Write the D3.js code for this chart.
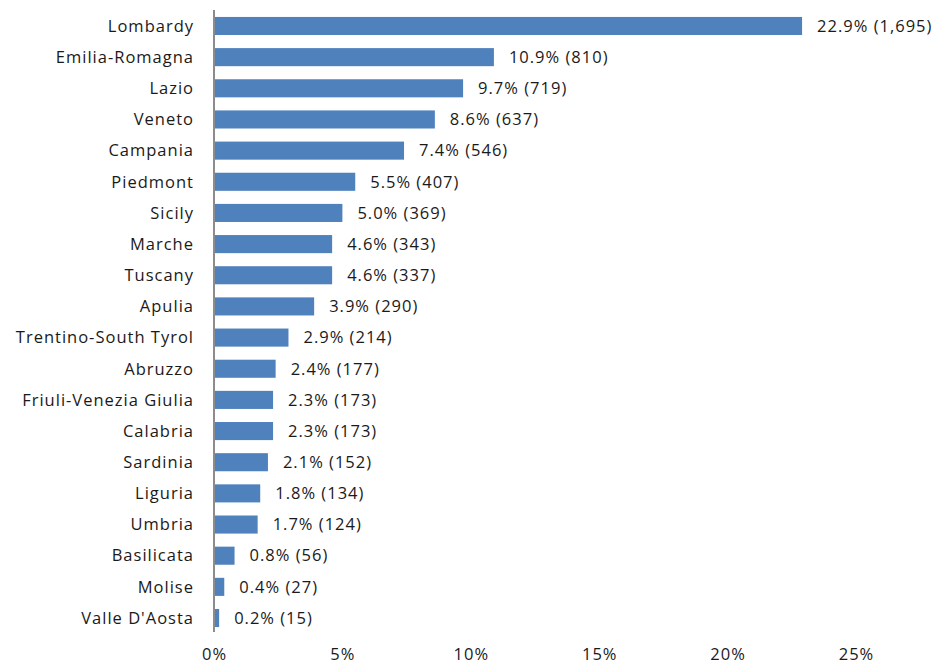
<!DOCTYPE html>
<html>
<head>
<meta charset="utf-8">
<script src="https://cdn.jsdelivr.net/npm/d3@7"></script>
<style>
  html, body { margin: 0; padding: 0; background: #fff; }
  svg text { font-family: "Open Sans", Lato, sans-serif; fill: #1a1a1a; letter-spacing: 1px; }
</style>
</head>
<body>
<svg id="chart" width="935" height="666"></svg>
<script>
// Regional share (%) and counts
const regions = ["Lombardy", "Emilia-Romagna", "Lazio", "Veneto", "Campania", "Piedmont", "Sicily",
  "Marche", "Tuscany", "Apulia", "Trentino-South Tyrol", "Abruzzo", "Friuli-Venezia Giulia",
  "Calabria", "Sardinia", "Liguria", "Umbria", "Basilicata", "Molise", "Valle D'Aosta"];
const shares = [22.9, 10.9, 9.7, 8.6, 7.4, 5.5, 5.0, 4.6, 4.6, 3.9, 2.9, 2.4, 2.3, 2.3, 2.1, 1.8, 1.7, 0.8, 0.4, 0.2];
const counts = [1695, 810, 719, 637, 546, 407, 369, 343, 337, 290, 214, 177, 173, 173, 152, 134, 124, 56, 27, 15];
const xTicks = [0, 5, 10, 15, 20, 25];

const data = regions.map((r, i) => ({ region: r, share: shares[i], count: counts[i] }));

const svg = d3.select("#chart");
const x = d3.scaleLinear().domain([0, 25]).range([214, 856]);
const y = d3.scaleBand().domain(regions).range([10.4, 633.6]).paddingInner(0.42).paddingOuter(0.21);
const FS = 16.5;

// bars
svg.append("g").selectAll("rect").data(data).join("rect")
  .attr("x", x(0))
  .attr("y", d => y(d.region))
  .attr("width", d => x(d.share) - x(0))
  .attr("height", y.bandwidth())
  .attr("fill", "#4f81bd");

// value labels
const fmt = d3.format(",");
svg.append("g").selectAll("text").data(data).join("text")
  .attr("x", d => x(d.share) + 15)
  .attr("y", d => y(d.region) + y.bandwidth() / 2)
  .attr("dy", "0.35em")
  .attr("font-size", FS)
  .text(d => `${d.share.toFixed(1)}% (${fmt(d.count)})`);

// category labels (trailing letter-space trimmed by shifting anchor)
svg.append("g").selectAll("text").data(data).join("text")
  .attr("x", 194)
  .attr("y", d => y(d.region) + y.bandwidth() / 2)
  .attr("dy", "0.35em")
  .attr("text-anchor", "end")
  .attr("font-size", FS)
  .text(d => d.region);

// vertical axis line
svg.append("line")
  .attr("x1", x(0)).attr("x2", x(0))
  .attr("y1", 10).attr("y2", 632)
  .attr("stroke", "#8c8c8c").attr("stroke-width", 2);

// x-axis tick labels
const xAxis = d3.axisBottom(x).tickValues(xTicks).tickFormat(d => d + "%").tickSize(0).tickPadding(0);
const gx = svg.append("g").attr("transform", "translate(0,648)").call(xAxis);
gx.select(".domain").remove();
gx.selectAll("text").attr("font-size", FS).attr("font-family", "'Open Sans', Lato, sans-serif").attr("fill", "#1a1a1a");
</script>
</body>
</html>
